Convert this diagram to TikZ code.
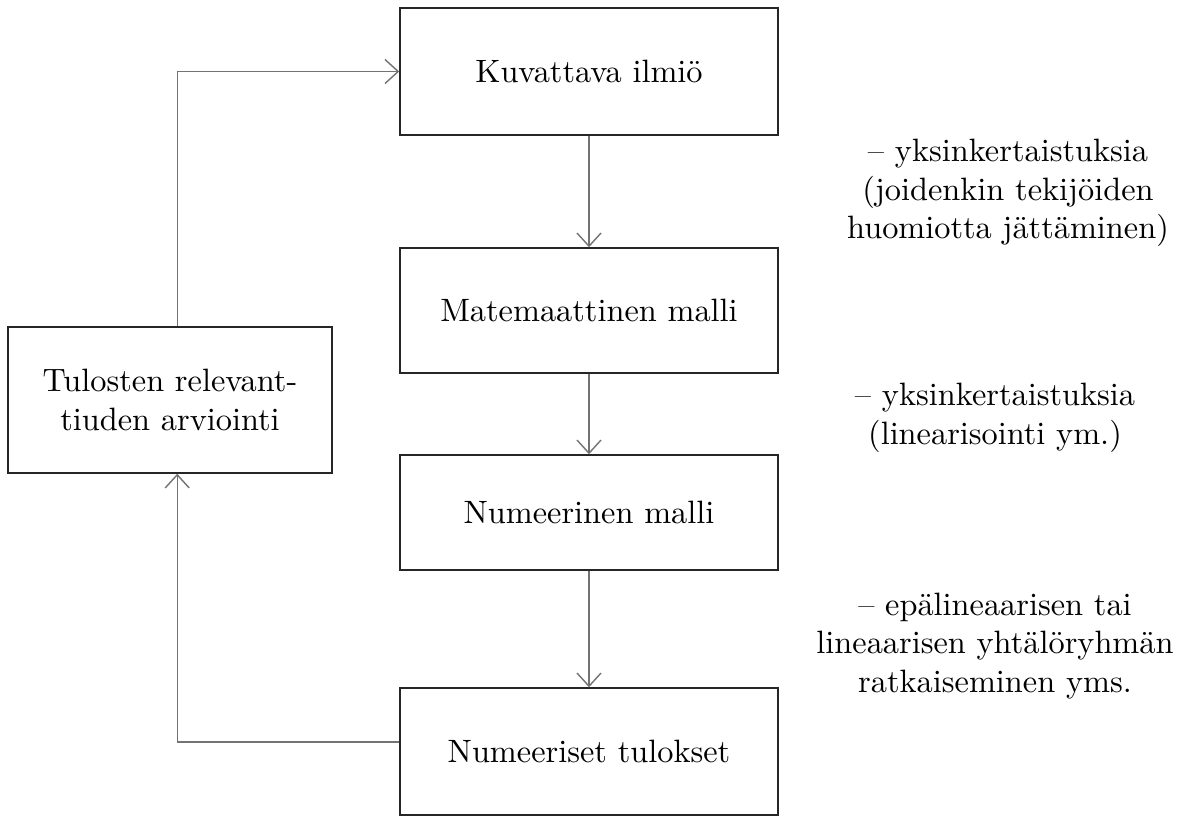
\documentclass[tikz,border=0pt]{standalone}
\usepackage{fontspec}
\setmainfont{lmroman10-regular.otf}
\usetikzlibrary{arrows.meta}
\begin{document}
\begin{tikzpicture}[x=0.025cm, y=-0.025cm,
    font=\fontsize{23}{27.5}\selectfont,
    stagebox/.style={draw=black!85, line width=1pt, minimum width=9.45cm, align=center},
    flow/.style={draw=black!55, line width=1pt, -{Straight Barb[length=3.3mm, width=6mm]}},
    note/.style={align=center}]
    \useasboundingbox (0, 0) rectangle (1183, 819);
    % vaiheet
    \node[stagebox, minimum height=3.175cm] (phen) at (589, 71.5) {Kuvattava ilmiö};
    \node[stagebox, minimum height=3.125cm] (math) at (589, 310.5) {Matemaattinen malli};
    \node[stagebox, minimum height=2.875cm] (num) at (589, 512.5) {Numeerinen malli};
    \node[stagebox, minimum height=3.175cm] (res) at (589, 751.5) {Numeeriset tulokset};
    \node[stagebox, minimum width=8.1cm, minimum height=3.65cm] (eval) at (170, 400)
        {Tulosten relevant-\\tiuden arviointi};
    % huomautukset
    \node[note] (n1) at (1008, 193) {-- yksinkertaistuksia\\(joidenkin tekijöiden\\huomiotta jättäminen)};
    \node[note] (n2) at (995, 418) {-- yksinkertaistuksia\\(linearisointi ym.)};
    \node[note] (n3) at (995, 646) {-- epälineaarisen tai\\lineaarisen yhtälöryhmän\\ratkaiseminen yms.};
    % nuolet
    \draw[flow] (phen) -- (math);
    \draw[flow] (math) -- (num);
    \draw[flow] (num) -- (res);
    \draw[flow] ([yshift=0.24cm]res.west) -| ([xshift=0.18cm]eval.south);
    \draw[flow] ([xshift=0.18cm]eval.north) |- (phen.west);
\end{tikzpicture}
\end{document}
